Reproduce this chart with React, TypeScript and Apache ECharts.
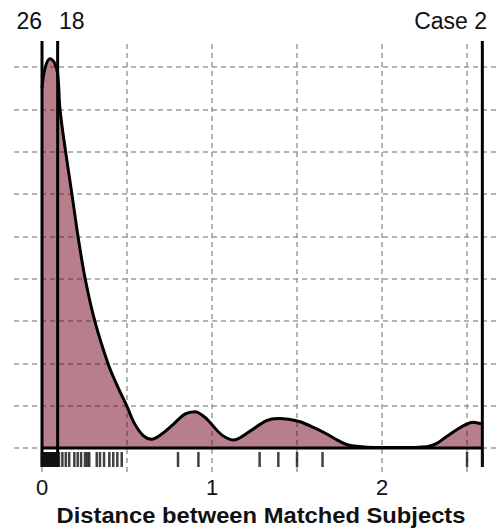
import React, { useEffect, useRef } from "react";
import * as echarts from "echarts";

// Density curve (x = distance, y = density in grid units)
const densityX = [0, 0.018, 0.047, 0.071, 0.092, 0.106, 0.139, 0.175, 0.212, 0.253, 0.312, 0.388, 0.445, 0.498, 0.541, 0.594, 0.645, 0.7, 0.772, 0.84, 0.9, 0.96, 1.0, 1.057, 1.125, 1.224, 1.32, 1.39, 1.45, 1.518, 1.6, 1.675, 1.74, 1.8, 1.912, 2.106, 2.265, 2.322, 2.376, 2.439, 2.494, 2.535, 2.576, 2.59];
const densityY = [8.5, 8.98, 9.2, 9.12, 8.85, 8.0, 7.0, 6.03, 5.0, 4.02, 2.98, 2.0, 1.45, 1.0, 0.6, 0.3, 0.21, 0.32, 0.56, 0.8, 0.86, 0.72, 0.55, 0.31, 0.19, 0.4, 0.65, 0.7, 0.68, 0.62, 0.48, 0.33, 0.18, 0.07, 0.02, 0.01, 0.03, 0.11, 0.26, 0.43, 0.56, 0.61, 0.58, 0.57];

// Rug of observed distances
const rugValues = [0, 0.004, 0.008, 0.012, 0.016, 0.02, 0.024, 0.028, 0.032, 0.036, 0.04, 0.044, 0.048, 0.052, 0.056, 0.06, 0.064, 0.068, 0.072, 0.076, 0.08, 0.084, 0.092, 0.1, 0.12, 0.14, 0.16, 0.19, 0.21, 0.23, 0.253, 0.266, 0.278, 0.322, 0.341, 0.365, 0.396, 0.419, 0.443, 0.469, 0.8, 0.92, 1.28, 1.39, 1.5, 1.65, 2.5, 2.59];

// Reference lines and their labels
const refLines = [
  { x: 0, label: "26" },
  { x: 0.092, label: "18" },
  { x: 2.59, label: "Case 2" },
];

const xTickLabels = [0, 1, 2];
const xGridValues = [0, 0.5, 1, 1.5, 2, 2.5];
const yGridValues = [0, 1, 2, 3, 4, 5, 6, 7, 8, 9];

const X_MIN = -0.1647;
const X_MAX = 2.688;
const Y_MIN = -0.567;
const Y_MAX = 9.62;
const RUG_Y = -0.272;
const REF_BOTTOM = -0.449;

const FONT = "'Liberation Sans', Arial, Helvetica, sans-serif";

export default function App() {
  const ref = useRef<HTMLDivElement>(null);
  useEffect(() => {
    if (!ref.current) return;
    document.body.style.margin = "0";
    const chart = echarts.init(ref.current, undefined, { renderer: "svg" });
    const gridDash = { color: "#9a9a9a", width: 1.5, type: [5, 4] as any };
    const series: any[] = [
      {
        type: "line",
        data: [],
        silent: true,
        z: 1,
        markLine: {
          z: 1,
          silent: true,
          symbol: "none",
          label: { show: false },
          lineStyle: gridDash,
          data: [
            ...xGridValues.map((v) => ({ xAxis: v })),
            ...yGridValues.map((v) => ({ yAxis: v })),
          ],
        },
      },
      {
        type: "line",
        z: 3,
        data: densityX.map((x, i) => [x, densityY[i]]),
        smooth: 0.35,
        symbol: "none",
        lineStyle: { color: "#000", width: 3 },
        areaStyle: { color: "rgba(112,0,24,0.5)", opacity: 1 },
      },
      {
        type: "line",
        z: 4,
        data: [[densityX[0], 0], [densityX[densityX.length - 1], 0]],
        symbol: "none",
        lineStyle: { color: "#000", width: 3 },
      },
      ...refLines.map((r) => ({
        type: "line",
        z: 5,
        data: [[r.x, REF_BOTTOM], [r.x, Y_MAX]],
        symbol: "none",
        lineStyle: { color: "#000", width: 3 },
      })),
      {
        type: "scatter",
        z: 6,
        data: rugValues.map((v) => [v, RUG_Y]),
        symbol: "rect",
        symbolSize: [2.5, 15],
        itemStyle: { color: "#111" },
      },
    ];
    chart.setOption({
      animation: false,
      grid: { left: 14, right: 0, top: 41, bottom: 57 },
      xAxis: {
        type: "value",
        min: X_MIN,
        max: X_MAX,
        axisLine: { show: false },
        axisTick: { show: false },
        splitLine: { show: false },
        axisLabel: {
          customValues: xTickLabels,
          fontSize: 22,
          color: "#111",
          fontFamily: FONT,
          margin: 4,
        },
      },
      yAxis: {
        type: "value",
        min: Y_MIN,
        max: Y_MAX,
        axisLine: { show: false },
        axisTick: { show: false },
        splitLine: { show: false },
        axisLabel: { show: false },
      },
      graphic: [
        {
          type: "text",
          x: 261,
          y: 515,
          scaleX: 1.08,
          style: {
            text: "Distance between Matched Subjects",
            font: `bold 22px ${FONT}`,
            fill: "#111",
            textAlign: "center",
            textVerticalAlign: "middle",
          },
        },
        {
          type: "text",
          x: 42,
          y: 21,
          style: { text: refLines[0].label, font: `23px ${FONT}`, fill: "#111", textAlign: "right", textVerticalAlign: "middle" },
        },
        {
          type: "text",
          x: 59,
          y: 21,
          style: { text: refLines[1].label, font: `23px ${FONT}`, fill: "#111", textAlign: "left", textVerticalAlign: "middle" },
        },
        {
          type: "text",
          x: 487,
          y: 21,
          style: { text: refLines[2].label, font: `23px ${FONT}`, fill: "#111", textAlign: "right", textVerticalAlign: "middle" },
        },
      ],
      series,
    });
    return () => chart.dispose();
  }, []);
  return (
    <div
      ref={ref}
      style={{ position: "fixed", left: 0, top: 0, width: 499, height: 529, background: "#fff" }}
    />
  );
}
